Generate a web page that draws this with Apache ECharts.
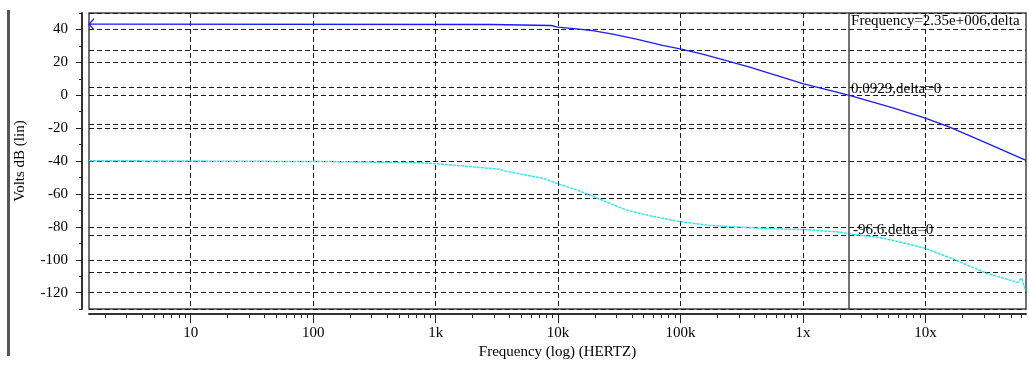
<!DOCTYPE html>
<html><head><meta charset="utf-8">
<script src="https://cdn.jsdelivr.net/npm/echarts@6/dist/echarts.min.js"></script>
<style>html,body{margin:0;padding:0;background:#fff}#c{width:1029px;height:365px}</style>
</head><body><div id="c"></div>
<script>
// ---- data ----
const decadeTicks = [10, 100, 1000, 1e4, 1e5, 1e6, 1e7];
const decadeLabels = ['10', '100', '1k', '10k', '100k', '1x', '10x'];
const yTicks = [40, 20, 0, -20, -40, -60, -80, -100, -120];

const blueFreq = [1.48, 2850, 2900, 8800, 9900, 14100, 19100, 27900, 43500, 71300, 101000, 151000, 236000, 366000, 995000, 2350000, 5410000, 9820000, 15700000, 33300000, 66000000];
const blueDb   = [43.2, 43.0, 42.6, 42.4, 41.4, 40.3, 39.3, 37.1, 34.1, 30.3, 28.0, 25.0, 21.0, 17.1, 7.0, 0.0929, -7.7, -13.7, -19.4, -29.9, -39.6];

const cyanFreq = [1.48, 140.8, 740, 1013, 1897, 3330, 3777, 7516, 10285, 14980, 21820, 36040, 55830, 98130, 172500, 303000, 567000, 1009000, 1986000, 2350000, 4212000, 6135000, 1e7, 16710000, 31290000, 56700000, 60770000, 64900000];
const cyanVal  = [-59.8, -60.3, -60.9, -61.4, -63.0, -64.4, -65.5, -69.3, -72.6, -76.2, -80.6, -86.5, -89.5, -92.7, -94.8, -95.7, -96.6, -97.0, -98.4, -99.3, -101.3, -103.7, -107.3, -112.9, -120.6, -125.6, -123.2, -129.3];

const cursorFreq = 2.35e6;
const cursorTexts = ['Frequency=2.35e+006,delta=0', '0.0929,delta=0', '-96.6,delta=0'];
const cursorBlue = 0.0929;
const cursorCyan = -99.3;

const xMin = 1.48, xMax = 66e6;
const minorX = [];
for (let e = 0; e <= 7; e++) for (let m = 2; m <= 9; m++) { const v = m * Math.pow(10, e); if (v > xMin && v < xMax) minorX.push(v); }

const FONT = 'Liberation Serif';
const GRID = '#1a1a1a';
const labelMap = {};
decadeTicks.forEach((v, i) => labelMap[v] = decadeLabels[i]);

const chart = echarts.init(document.getElementById('c'));
const txt = { fontFamily: FONT, fontSize: 15, color: '#000' };

chart.setOption({
  animation: false,
  backgroundColor: '#fff',
  grid: { left: 89, right: 3, top: 13, bottom: 52, show: true, borderColor: '#444', borderWidth: 1.5, backgroundColor: 'transparent' },
  graphic: [{ type: 'rect', left: 7, top: 10, shape: { width: 3, height: 346 }, style: { fill: '#555' } }],
  xAxis: [
    {
      type: 'log', logBase: 10, min: xMin, max: xMax, position: 'bottom', offset: 5,
      axisLine: { show: true, onZero: false, lineStyle: { color: '#333', width: 2 } },
      axisTick: { show: true, customValues: decadeTicks, length: 9, lineStyle: { color: '#222' } },
      axisLabel: Object.assign({ customValues: decadeTicks, margin: 11, formatter: v => labelMap[v] || '' }, txt),
      splitLine: { show: true, lineStyle: { type: [5, 3], color: GRID, width: 1 } },
      minorTick: { show: false },
      name: 'Frequency (log) (HERTZ)', nameLocation: 'middle', nameGap: 26,
      nameTextStyle: txt
    },
    {
      type: 'log', logBase: 10, min: xMin, max: xMax, position: 'bottom', offset: 5,
      axisLine: { show: false, onZero: false },
      axisTick: { show: true, customValues: minorX, length: 4, lineStyle: { color: '#222' } },
      axisLabel: { show: false },
      splitLine: { show: false }
    }
  ],
  yAxis: [
    {
      type: 'value', min: -130, max: 50, position: 'left', offset: 7,
      axisLine: { show: true, onZero: false, lineStyle: { color: '#333', width: 2 } },
      axisTick: { show: true, customValues: yTicks, length: 6, lineStyle: { color: '#222' } },
      axisLabel: Object.assign({ customValues: yTicks, margin: 14 }, txt),
      splitLine: { show: true, lineStyle: { type: [5, 3], color: GRID, width: 1 } },
      name: 'Volts dB (lin)', nameLocation: 'middle', nameGap: 54, nameRotate: 90,
      nameTextStyle: txt
    },
    {
      type: 'value', min: -140, max: 20, interval: 20, position: 'right',
      axisLine: { show: false, onZero: false }, axisTick: { show: false }, axisLabel: { show: false },
      splitLine: { show: true, lineStyle: { type: [5, 3], color: GRID, width: 1 } }
    },
    {
      type: 'value', min: -130, max: 50, interval: 10, position: 'left', offset: 7,
      axisLine: { show: false, onZero: false },
      axisTick: { show: true, length: 3, lineStyle: { color: '#222' } },
      axisLabel: { show: false }, splitLine: { show: false }
    }
  ],
  series: [
    {
      type: 'line', xAxisIndex: 0, yAxisIndex: 0, clip: false,
      symbol: 'none', showSymbol: true,
      lineStyle: { color: '#1a1aff', width: 1.3 },
      itemStyle: { color: '#1a1aff' },
      data: blueFreq.map((f, i) => i === 0 ? {
        value: [f, blueDb[i]],
        symbol: 'path://M8,0 L0,5 L8,10', symbolSize: [5, 11], symbolOffset: [2.5, 0],
        itemStyle: { color: 'none', borderColor: '#1a1aff', borderWidth: 1.2 }
      } : [f, blueDb[i]]),
      markLine: {
        silent: true, symbol: ['none', 'none'], animation: false,
        lineStyle: { type: 'solid', color: '#444', width: 1.5 },
        label: { show: false },
        data: [{ xAxis: cursorFreq }]
      },
      markPoint: {
        silent: true, symbol: 'circle', symbolSize: 1, itemStyle: { color: 'rgba(0,0,0,0)' },
        data: [
          { coord: [cursorFreq, 50], label: Object.assign({ show: true, formatter: cursorTexts[0], position: 'right', distance: 2, offset: [0, 8], width: 172, overflow: 'truncate', ellipsis: '' }, txt) },
          { coord: [cursorFreq, cursorBlue], label: Object.assign({ show: true, formatter: cursorTexts[1], position: 'right', distance: 2, offset: [0, -6] }, txt) }
        ]
      }
    },
    {
      type: 'line', xAxisIndex: 0, yAxisIndex: 1,
      symbol: 'none',
      lineStyle: { color: '#2ee6f2', width: 1.5, type: [3, 1] },
      itemStyle: { color: '#2ee6f2' },
      data: cyanFreq.map((f, i) => [f, cyanVal[i]]),
      markPoint: {
        silent: true, symbol: 'circle', symbolSize: 1, itemStyle: { color: 'rgba(0,0,0,0)' },
        data: [
          { coord: [cursorFreq, cursorCyan], label: Object.assign({ show: true, formatter: cursorTexts[2], position: 'right', distance: 2, offset: [2, -4] }, txt) }
        ]
      }
    }
  ]
});
</script></body></html>
